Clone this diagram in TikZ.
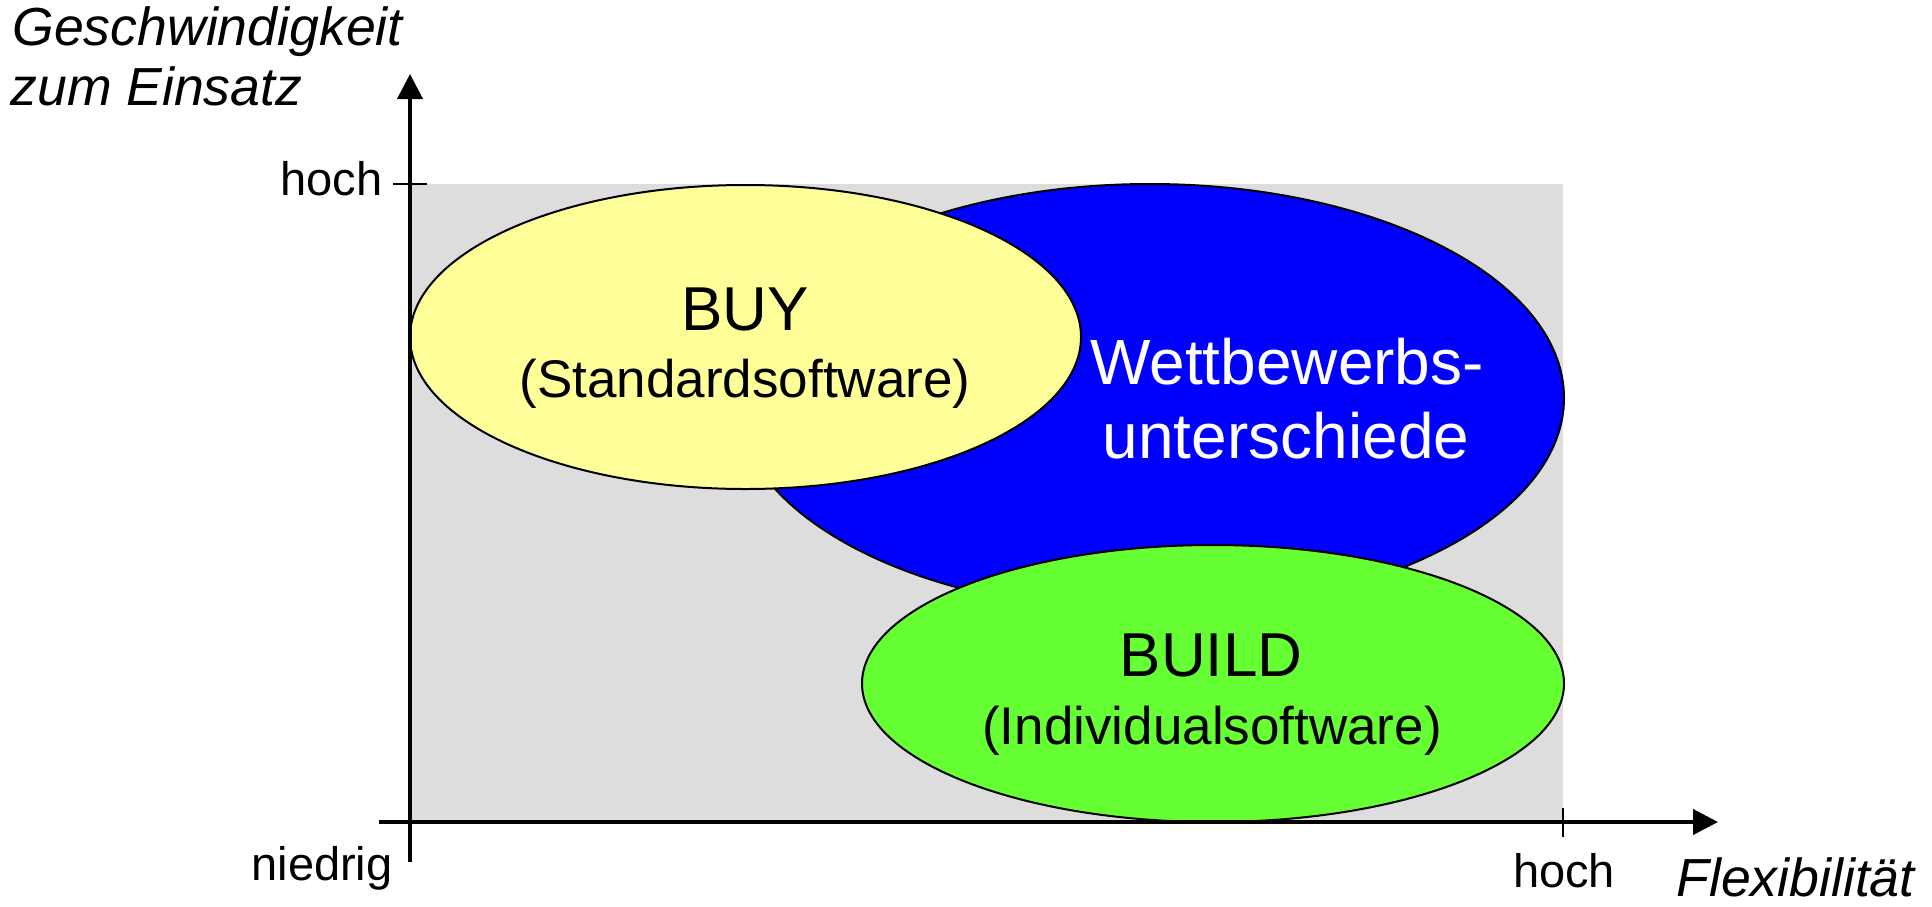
\documentclass[tikz,border=0pt]{standalone}
\usepackage{fontspec}
\setmainfont{Liberation Sans}
\usetikzlibrary{arrows.meta,shapes.geometric}
\definecolor{panelgray}{HTML}{DDDDDD}
\definecolor{buyyellow}{HTML}{FFFF99}
\definecolor{edgeblue}{HTML}{0000FF}
\definecolor{buildgreen}{HTML}{66FF33}
\begin{document}
\begin{tikzpicture}[x=0.5pt,y=-0.5pt,
  blob/.style={ellipse, draw=black, line width=1pt, inner sep=0pt},
  axisline/.style={line width=2pt, -{Triangle[length=12.5pt,width=12.5pt]}},
  tickline/.style={line width=0.8pt},
  txt/.style={inner sep=0pt, anchor=base},
  big/.style={font=\fontsize{31}{36}\selectfont},
  sub/.style={font=\fontsize{26.5}{30}\selectfont},
  val/.style={font=\fontsize{23.5}{27}\selectfont},
  ttl/.style={font=\fontsize{26.8}{31}\selectfont\itshape}]
\useasboundingbox (0,0) rectangle (1932,906);

% background panel
\fill[panelgray] (410,184) rectangle (1563,822);

% regions
\node[blob, fill=edgeblue, minimum width=414pt, minimum height=214pt] (diff) at (1150,398) {};
\node[blob, fill=buyyellow, minimum width=335.5pt, minimum height=152pt] (buy) at (745.5,337) {};
\node[blob, fill=buildgreen, minimum width=351pt, minimum height=138.5pt] (build) at (1213,683.5) {};

% region labels
\node[txt, big] (buyt) at (745,330) {BUY};
\node[txt, sub] (buys) at (745,397) {(Standardsoftware)};
\node[txt, font=\fontsize{32}{37}\selectfont, text=white] (difft1) at (1287,384) {Wettbewerbs-};
\node[txt, font=\fontsize{32}{37}\selectfont, text=white] (difft2) at (1286,458) {unterschiede};
\node[txt, big] (buildt) at (1211,676) {BUILD};
\node[txt, sub] (builds) at (1212,744) {(Individualsoftware)};

% axes
\coordinate (xs) at (379,822);
\coordinate (xe) at (1718,822);
\coordinate (ys) at (410,862);
\coordinate (ye) at (410,74);
\draw[axisline] (xs) -- (xe);
\draw[axisline] (ys) -- (ye);

% ticks
\coordinate (yt1) at (393,184);
\coordinate (yt2) at (427,184);
\coordinate (xt1) at (1563,808);
\coordinate (xt2) at (1563,837);
\draw[tickline] (yt1) -- (yt2);
\draw[tickline] (xt1) -- (xt2);

% axis labels
\node[txt, val, anchor=base east] (yhigh) at (383,195) {hoch};
\node[txt, val, anchor=base east] (low) at (393,880) {niedrig};
\node[txt, val] (xhigh) at (1564,887) {hoch};
\node[txt, ttl, anchor=base west] (ytitle1) at (12,45) {Geschwindigkeit};
\node[txt, ttl, anchor=base west] (ytitle2) at (10,105) {zum Einsatz};
\node[txt, ttl, anchor=base west] (xtitle) at (1676,896) {Flexibilität};
\end{tikzpicture}
\end{document}
